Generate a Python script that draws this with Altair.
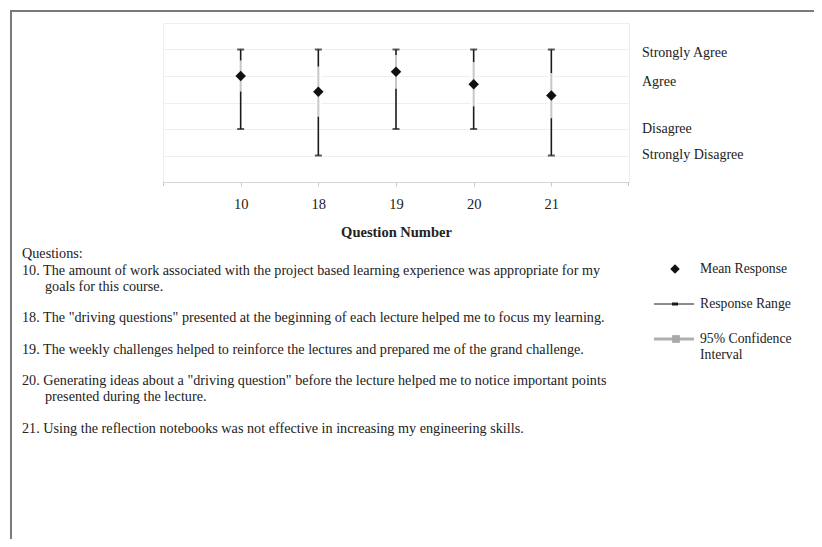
import altair as alt
import pandas as pd

# ---- data ----
questions = ["10", "18", "19", "20", "21"]
mean_resp = [4.0, 3.41, 4.16, 3.69, 3.26]
range_min = [2, 1, 2, 2, 1]
range_max = [5, 5, 5, 5, 5]
ci_low = [3.42, 2.47, 3.53, 2.86, 2.41]
ci_high = [4.58, 4.35, 4.79, 4.52, 4.11]

scale_labels = ["Strongly Agree", "Agree", "Disagree", "Strongly Disagree"]

question_lines = [
    "Questions:",
    "10. The amount of work associated with the project based learning experience was appropriate for my",
    "goals for this course.",
    "18. The \"driving questions\" presented at the beginning of each lecture helped me to focus my learning.",
    "19. The weekly challenges helped to reinforce the lectures and prepared me of the grand challenge.",
    "20. Generating ideas about a \"driving question\" before the lecture helped me to notice important points",
    "presented during the lecture.",
    "21. Using the reflection notebooks was not effective in increasing my engineering skills.",
]

legend_labels = ["Mean Response", "Response Range", "95% Confidence", "Interval"]

df = pd.DataFrame({
    "q": questions,
    "mean": mean_resp,
    "rmin": range_min,
    "rmax": range_max,
    "lo": ci_low,
    "hi": ci_high,
})

FONT = "Liberation Serif"
TXT = "#222222"
W, H = 466, 159

xenc = alt.X(
    "q:O",
    sort=questions,
    scale=alt.Scale(type="point", padding=1),
    axis=alt.Axis(
        title="Question Number", labelAngle=0, labelFont=FONT, labelFontSize=14.5,
        labelColor=TXT, titleFont=FONT, titleFontSize=14.5, titleFontWeight="bold",
        titleColor=TXT, domainColor="#d6d6d6", tickColor="#c8c8c8", tickSize=4,
        labelPadding=11, titlePadding=15, grid=False,
    ),
)
yscale = alt.Scale(domain=[0, 6], nice=False, zero=False)
yaxis = alt.Axis(title=None, labels=False, ticks=False, domain=False, grid=True,
                 values=[1, 2, 3, 4, 5, 6], gridColor="#efefef", gridWidth=1)

base = alt.Chart(df)

rng = base.mark_rule(color="#1a1a1a", strokeWidth=1.6).encode(
    x=xenc,
    y=alt.Y("rmin:Q", scale=yscale, axis=yaxis),
    y2="rmax:Q",
)
caps_lo = base.mark_tick(color="#1a1a1a", thickness=2, size=7).encode(
    x=xenc, y=alt.Y("rmin:Q", scale=yscale, axis=yaxis))
caps_hi = base.mark_tick(color="#1a1a1a", thickness=2, size=7).encode(
    x=xenc, y=alt.Y("rmax:Q", scale=yscale, axis=yaxis))
ci_bg = base.mark_rule(color="#ffffff", strokeWidth=6).encode(
    x=xenc, y=alt.Y("lo:Q", scale=yscale, axis=yaxis), y2="hi:Q")
ci = base.mark_rule(color="#bdbdbd", strokeWidth=2, opacity=0.85).encode(
    x=xenc, y=alt.Y("lo:Q", scale=yscale, axis=yaxis), y2="hi:Q")
means = base.mark_point(shape="diamond", filled=True, color="#111111", size=110, opacity=1).encode(
    x=xenc, y=alt.Y("mean:Q", scale=yscale, axis=yaxis))

one = alt.Data(values=[{}])


def text_at(txt, x, y, size=13, weight="normal"):
    return alt.Chart(one).mark_text(
        text=txt, align="left", baseline="middle", font=FONT, fontSize=size,
        fontWeight=weight, color=TXT,
    ).encode(x=alt.value(x), y=alt.value(y))


def hline(x1, x2, y, color, width):
    return alt.Chart(one).mark_rule(color=color, strokeWidth=width).encode(
        x=alt.value(x1), x2=alt.value(x2), y=alt.value(y))


def vline(x, y1, y2, color, width):
    return alt.Chart(one).mark_rule(color=color, strokeWidth=width).encode(
        x=alt.value(x), y=alt.value(y1), y2=alt.value(y2))


layers = [rng, caps_lo, caps_hi, ci_bg, ci, means]

# edge ticks of the category axis
layers.append(vline(0.5, H, H + 4, "#c8c8c8", 1))
layers.append(vline(W - 0.5, H, H + 4, "#c8c8c8", 1))

# right-hand scale labels
for lab, yy in zip(scale_labels, [30, 59, 106, 132]):
    layers.append(text_at(lab, 479, yy, size=14))

# question texts
q_pos = [(-141, 231), (-141, 248), (-118, 264), (-141, 295), (-141, 327),
         (-141, 358), (-118, 374), (-141, 406)]
for line, (xx, yy) in zip(question_lines, q_pos):
    layers.append(text_at(line, xx, yy, size=14.2))

# manual legend
layers.append(alt.Chart(one).mark_point(shape="diamond", filled=True, color="#111111",
                                        size=90, opacity=1).encode(
    x=alt.value(512), y=alt.value(246)))
layers.append(hline(491, 531, 281, "#1a1a1a", 1))
layers.append(hline(509, 515, 281, "#1a1a1a", 3))
layers.append(hline(491, 531, 316, "#b0b0b0", 3))
layers.append(alt.Chart(one).mark_point(shape="square", filled=True, color="#a8a8a8",
                                        size=60, opacity=1).encode(
    x=alt.value(513), y=alt.value(316)))
for lab, yy in zip(legend_labels, [246, 281, 316, 332]):
    layers.append(text_at(lab, 537, yy, size=13.7))

# outer frame (top and left edges visible)
layers.append(hline(-153, 651, -12, "#7a7a7a", 2))
layers.append(vline(-152, -13, 560, "#7a7a7a", 2))

chart = alt.layer(*layers).properties(
    width=W, height=H,
    padding={"left": 155, "top": 15, "right": 185, "bottom": 357},
    autosize=alt.AutoSizeParams(type="none"),
    background="white",
).configure_view(stroke="#eeeeee", strokeWidth=1)

chart.save("out.html", embed_options={"renderer": "svg", "actions": False})
